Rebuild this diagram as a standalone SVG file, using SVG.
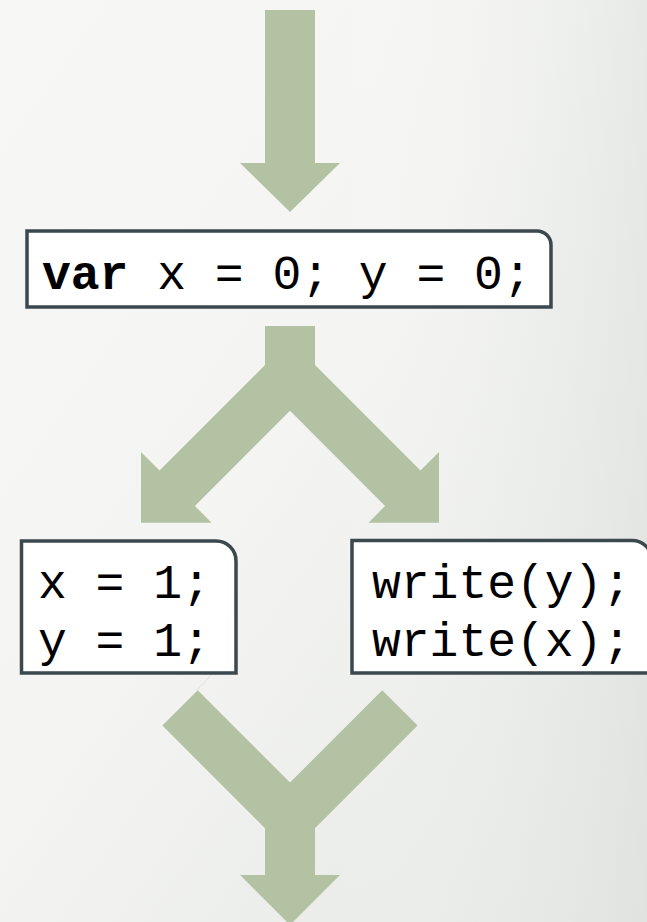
<svg xmlns="http://www.w3.org/2000/svg" width="647" height="922" viewBox="0 0 647 922">
  <defs>
    <linearGradient id="bg" x1="0" y1="0" x2="1" y2="1">
      <stop offset="0" stop-color="#f7f7f5"/>
      <stop offset="0.45" stop-color="#f4f5f3"/>
      <stop offset="1" stop-color="#e4e6e3"/>
    </linearGradient>
    <linearGradient id="bgr" x1="0" y1="0" x2="1" y2="0">
      <stop offset="0.5" stop-color="#ffffff" stop-opacity="0"/>
      <stop offset="1" stop-color="#dcdfdb" stop-opacity="0.5"/>
    </linearGradient>
  </defs>
  <style>
    .arrow { fill: #b4c2a4; stroke: none; }
    .box { fill: #ffffff; stroke: #3b484e; stroke-width: 3.5; }
    .code { font-family: "Liberation Mono", "Courier New", monospace; font-size: 48px; fill: #000000; }
    .kw { font-weight: bold; }
    .faint { stroke: #dfe3dc; stroke-width: 1; fill: none; }
  </style>
  <rect x="0" y="0" width="647" height="922" fill="url(#bg)"/>
  <rect x="0" y="0" width="647" height="922" fill="url(#bgr)"/>

  <g id="connectors">
    <polygon id="arrow-in" class="arrow" points="265,10 315,10 315,163 340,163 290,212 240,163 265,163"/>
    <polygon id="arrow-fork" class="arrow" points="265,326 265,365 159.5,470.5 141,452 141,522.7 211.6,522.7 194.9,505.9 290,410.7 385.1,505.9 368.4,522.7 439,522.7 439,452 420.5,470.5 315,365 315,326"/>
    <polygon id="arrow-join" class="arrow" points="197.75,690.25 290,782.5 382.25,690.25 417.6,725.6 315,828.2 315,875 340,875 290,925 240,875 265,875 265,828.2 162.4,725.6"/>
    <line class="faint" x1="213" y1="673" x2="197" y2="690"/>
  </g>

  <g id="node-init">
    <path class="box" d="M27,231 H537 A14,14 0 0 1 551,245 V307 H27 Z"/>
    <text class="code" x="42" y="289"><tspan class="kw">var</tspan> x = 0; y = 0;</text>
  </g>

  <g id="node-writer">
    <path class="box" d="M21.5,541 H216 A20,20 0 0 1 236,561 V673 H21.5 Z"/>
    <text class="code" x="38" y="598">x = 1;</text>
    <text class="code" x="38" y="656">y = 1;</text>
  </g>

  <g id="node-reader">
    <path class="box" d="M352,540.5 H632 A20,20 0 0 1 652,560.5 V673 H352 Z"/>
    <text class="code" x="372" y="598">write(y);</text>
    <text class="code" x="372" y="656">write(x);</text>
  </g>
</svg>
